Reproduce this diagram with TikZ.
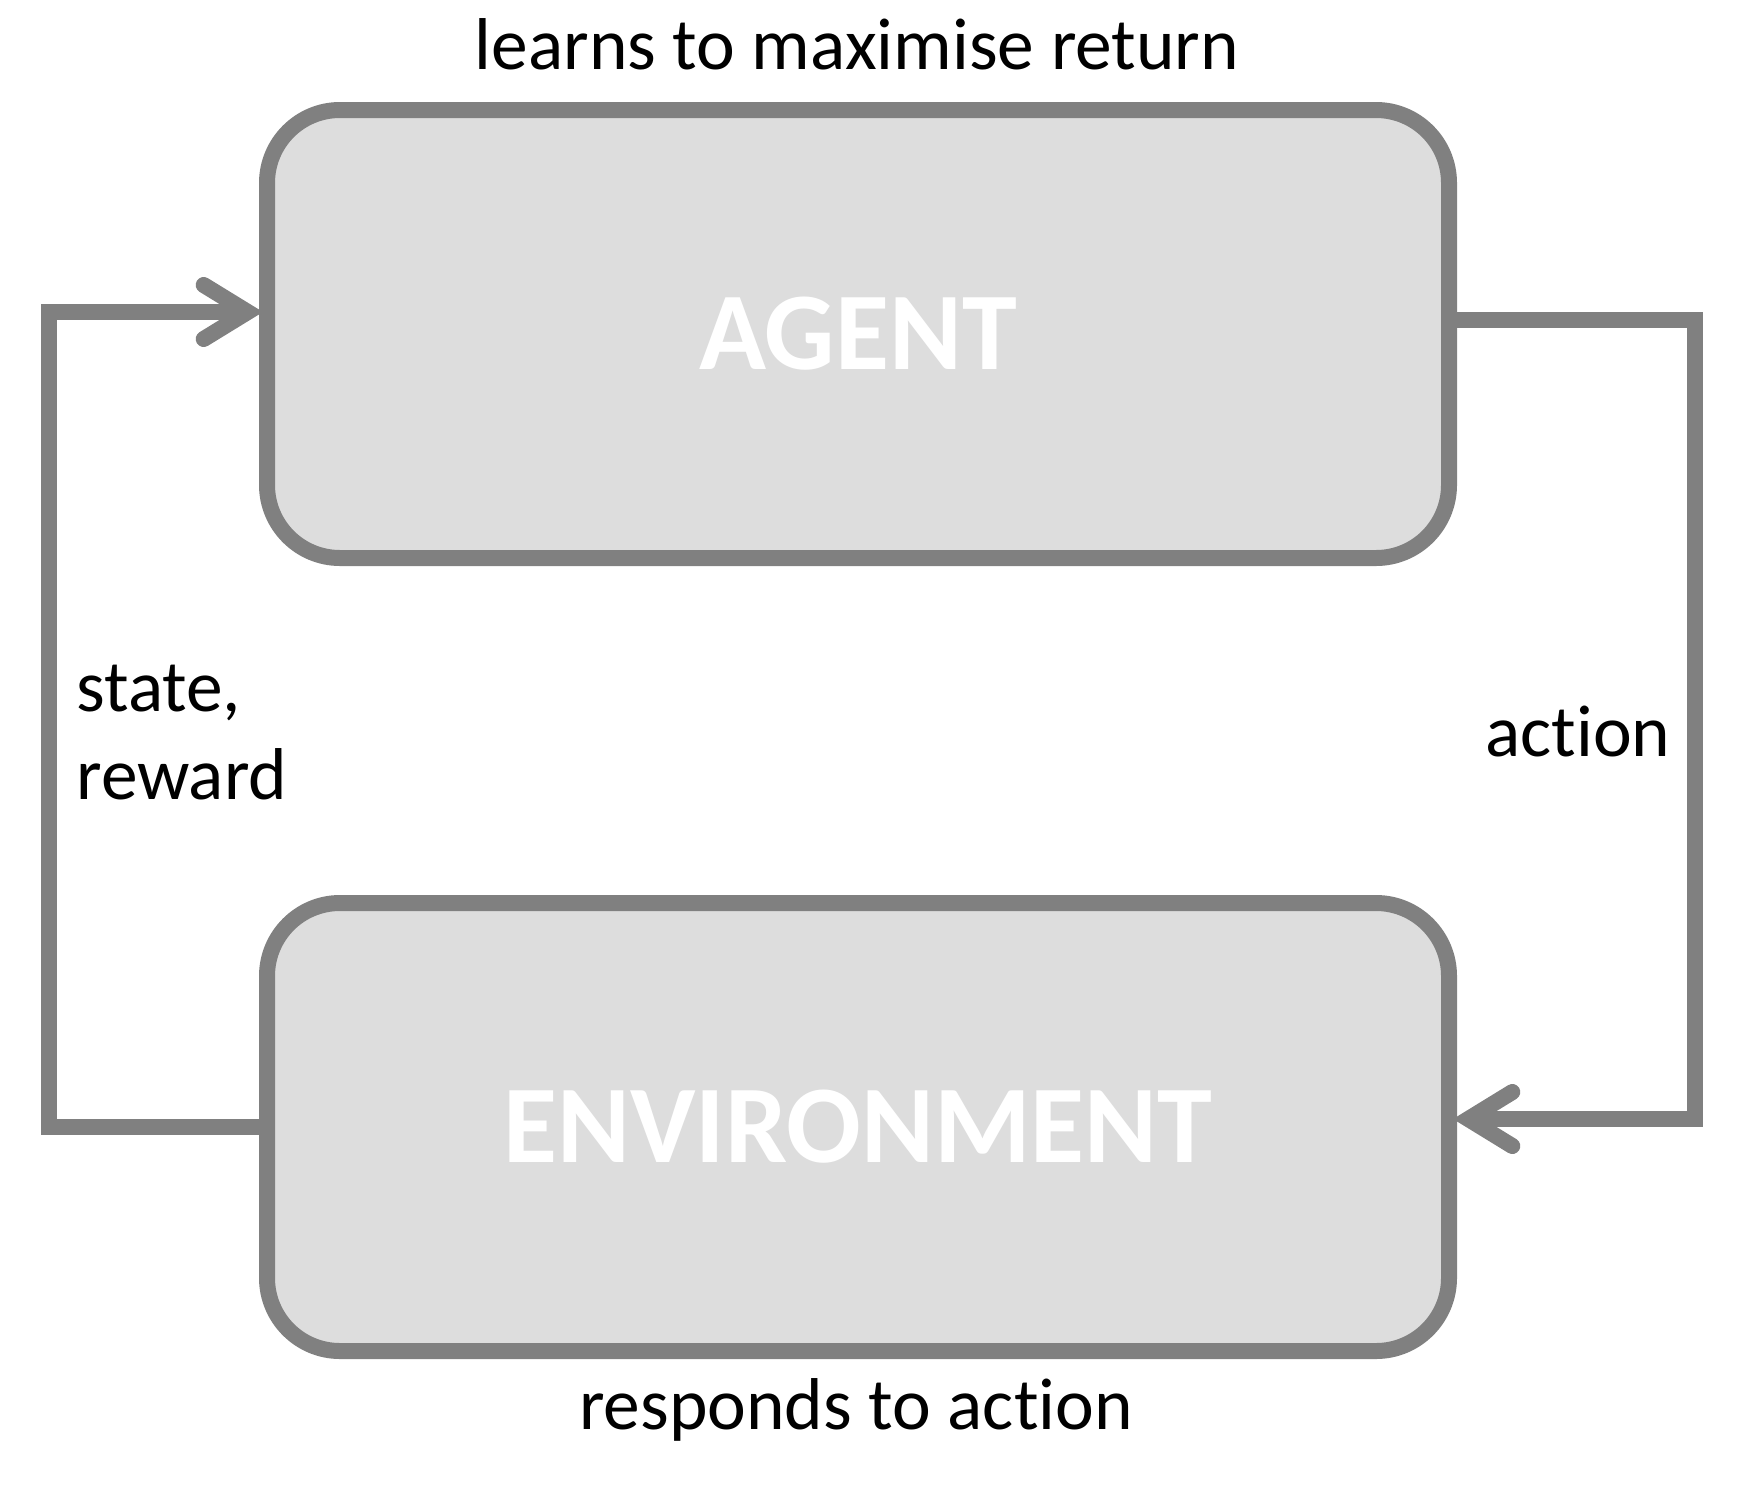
\documentclass[tikz,border=0pt]{standalone}
\usepackage{fontspec}
\setmainfont{Carlito}[Ligatures=NoCommon]
\usepackage{tikz}
\usetikzlibrary{arrows.meta}
\definecolor{edgegray}{HTML}{808080}
\definecolor{boxgray}{HTML}{DDDDDD}
\tikzstyle{block}=[rectangle, draw=edgegray, fill=boxgray, line width=8pt, rounded corners=36.5pt, minimum width=591pt, minimum height=224pt, text=white, font=\fontsize{55.3}{62}\selectfont\bfseries]
\tikzstyle{feedback}=[draw=edgegray, line width=8pt, shorten >=-2pt, -{Straight Barb[length=22pt,width=27pt,line cap=round]}]
\tikzstyle{note}=[font=\fontsize{36.7}{44}\selectfont, inner sep=0pt]

\begin{document}
\begin{tikzpicture}[x=0.5pt, y=-0.5pt]
    \useasboundingbox (0,0) rectangle (1744,1494);
    \node[block] (agent) at (858,334) {AGENT};
    \node[block] (env) at (858,1127) {ENVIRONMENT};
    \coordinate (lt) at (49,312);
    \coordinate (rt) at (1695,320);
    \coordinate (rb) at (1695,1119);
    \draw[feedback] (env.west) -| (lt) -- (agent.west |- lt);
    \draw[feedback] (agent.east |- rt) -| (rb) -- (env.east |- rb);
    \node[note, anchor=base] (goal) at (857,69) {learns to maximise return};
    \node[note, anchor=base] (resp) at (856,1429) {responds to action};
    \node[note, anchor=base west] (act) at (1485,756) {action};
    \node[note, anchor=base west, align=left] (obs) at (76,799) {state,\\reward};
\end{tikzpicture}
\end{document}
